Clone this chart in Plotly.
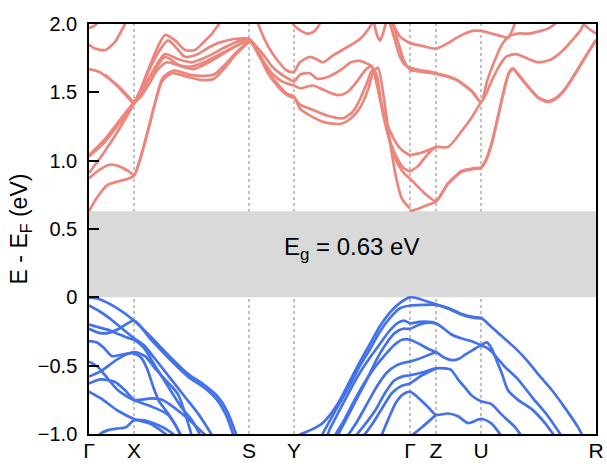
import plotly.graph_objects as go

# High-symmetry points (k-path distance, arbitrary units)
kpt_pos = [0, 45, 160, 205, 321, 347, 392, 507]
kpt_lbl = ["Γ", "X", "S", "Y", "Γ", "Z", "U", "R"]

gap_eV = 0.63

# ---------------- conduction bands (k, E) ----------------
cb_k = [
    [0, 8, 18, 30, 40, 45, 52, 59, 66, 73, 83, 100, 113, 125, 136, 146, 160],
    [0, 10, 20, 30, 40, 45, 53, 60, 67, 74, 85, 100, 113, 125, 137, 147, 160],
    [0, 15, 30, 45, 52, 60, 68, 76, 86, 96, 106, 115, 123, 129, 134],
    [0, 15, 30, 45, 52, 60, 70, 79, 88, 96, 109, 120, 129, 145, 160, 168, 176, 183, 189, 197, 205, 211, 221, 228, 238, 251, 262, 271, 278, 283, 288, 293, 298, 304, 310, 316, 321],
    [0, 15, 30, 45, 53, 62, 69, 76, 90, 103, 118, 136, 148, 160, 168, 176, 184, 193, 200, 205, 211, 224, 234, 248, 258, 268, 276, 282, 286, 291, 296, 302, 308, 314, 321],
    [16, 29, 38, 45, 52, 60, 68, 76, 90, 103, 118, 139, 150, 160, 170, 179, 188, 196, 201, 205, 211, 221, 238, 254, 264, 271, 278, 283, 287, 292, 298, 304, 310, 316, 321],
    [0, 10, 20, 30, 38, 45, 52, 60, 68, 78, 92, 105, 120, 138, 150, 160, 170, 180, 190, 198, 205, 211, 221, 236, 252, 262, 272, 279, 284, 289, 295, 301, 307, 313, 321],
    [0, 6, 16, 26, 31, 36, 40],
    [0, 6, 12],
    [165, 169, 176, 183, 190, 196, 201, 205, 211, 221, 228, 234, 244, 258, 271, 281, 286],
    [200, 205, 212, 218, 224, 229, 234],
    [284, 288, 291, 294, 298],
    [296, 301, 306, 311, 316, 321, 333, 347, 366, 383, 392, 403, 410, 417, 427, 438, 449, 462, 473, 483, 492, 497],
    [299, 304, 309, 314, 318, 321, 333, 347, 366, 383, 392, 398, 405, 413, 420, 429, 440, 452, 460, 466, 472],
    [302, 306, 311, 316, 321, 333, 347, 359, 368, 376, 384, 392, 403, 413, 419, 423, 428],
    [321, 330, 340, 347, 359, 373, 385, 392, 397, 403, 410, 416, 420, 424, 430, 439, 449, 459, 468, 476, 490, 500, 507],
    [321, 333, 347, 359, 373, 385, 392, 397, 403, 410, 416, 420, 424, 430, 439, 449, 459, 468, 476, 490, 500, 507],
    [321, 329, 339, 347, 359, 373, 383, 392],
    [321, 333, 347],
    [488, 496, 501, 507],
]
cb_E = [
    [0.63, 0.73, 0.82, 0.85, 0.87, 0.89, 1.03, 1.22, 1.42, 1.58, 1.64, 1.61, 1.59, 1.60, 1.68, 1.77, 1.87],
    [0.87, 0.93, 0.97, 0.96, 0.92, 0.895, 1.06, 1.25, 1.45, 1.61, 1.66, 1.63, 1.62, 1.63, 1.71, 1.79, 1.88],
    [0.91, 1.06, 1.23, 1.42, 1.53, 1.68, 1.82, 1.92, 1.88, 1.81, 1.81, 1.87, 1.93, 1.99, 2.05],
    [1.03, 1.13, 1.27, 1.42, 1.52, 1.66, 1.80, 1.88, 1.82, 1.76, 1.78, 1.83, 1.86, 1.89, 1.89, 1.83, 1.76, 1.69, 1.65, 1.61, 1.58, 1.63, 1.64, 1.60, 1.61, 1.66, 1.72, 1.73, 1.71, 1.69, 1.55, 1.40, 1.27, 1.17, 1.10, 1.06, 1.04],
    [1.04, 1.15, 1.29, 1.43, 1.52, 1.63, 1.72, 1.78, 1.74, 1.72, 1.76, 1.83, 1.87, 1.89, 1.81, 1.71, 1.63, 1.58, 1.56, 1.55, 1.53, 1.55, 1.52, 1.48, 1.50, 1.58, 1.66, 1.69, 1.65, 1.45, 1.28, 1.12, 1.02, 0.95, 0.92],
    [1.63, 1.54, 1.47, 1.42, 1.49, 1.60, 1.69, 1.76, 1.70, 1.69, 1.73, 1.81, 1.85, 1.88, 1.77, 1.64, 1.55, 1.49, 1.47, 1.46, 1.41, 1.38, 1.33, 1.31, 1.36, 1.45, 1.57, 1.66, 1.64, 1.43, 1.22, 1.06, 0.96, 0.90, 0.87],
    [1.67, 1.65, 1.60, 1.54, 1.48, 1.43, 1.47, 1.56, 1.66, 1.72, 1.69, 1.67, 1.72, 1.80, 1.85, 1.88, 1.77, 1.64, 1.55, 1.49, 1.47, 1.38, 1.33, 1.28, 1.27, 1.31, 1.40, 1.52, 1.64, 1.68, 1.45, 1.14, 0.88, 0.72, 0.65, 0.63],
    [1.85, 1.82, 1.81, 1.87, 1.93, 2.0, 2.05],
    [1.97, 1.99, 2.04],
    [2.05, 2.0, 1.88, 1.79, 1.72, 1.67, 1.65, 1.65, 1.72, 1.76, 1.74, 1.72, 1.77, 1.83, 1.89, 1.98, 2.05],
    [2.05, 1.99, 1.95, 1.93, 1.94, 1.98, 2.05],
    [2.05, 1.92, 1.88, 1.93, 2.04],
    [2.08, 2.0, 1.88, 1.76, 1.70, 1.68, 1.66, 1.64, 1.60, 1.51, 1.43, 1.59, 1.69, 1.76, 1.78, 1.75, 1.72, 1.74, 1.80, 1.88, 1.96, 2.05],
    [2.08, 2.0, 1.87, 1.75, 1.69, 1.665, 1.65, 1.635, 1.595, 1.505, 1.425, 1.58, 1.72, 1.85, 1.91, 1.93, 1.93, 1.95, 1.97, 2.0, 2.05],
    [2.03, 1.97, 1.91, 1.88, 1.86, 1.84, 1.82, 1.86, 1.90, 1.93, 1.95, 1.95, 1.93, 1.91, 1.90, 1.95, 2.05],
    [0.63, 0.65, 0.68, 0.70, 0.83, 0.92, 0.94, 0.945, 1.00, 1.13, 1.35, 1.54, 1.64, 1.67, 1.62, 1.54, 1.46, 1.43, 1.46, 1.52, 1.68, 1.80, 1.88],
    [0.87, 0.78, 0.705, 0.835, 0.925, 0.945, 0.95, 1.01, 1.14, 1.36, 1.55, 1.645, 1.675, 1.625, 1.545, 1.465, 1.435, 1.465, 1.525, 1.685, 1.805, 1.885],
    [0.92, 0.96, 1.05, 1.10, 1.10, 1.22, 1.32, 1.43],
    [1.04, 1.06, 1.10],
    [2.05, 1.99, 1.96, 1.93],
]

# ---------------- valence bands (k, E) ----------------
vb_k = [
    [0, 9, 26, 45, 62, 79, 99, 115, 128, 138, 148],
    [0, 10, 20, 30, 45, 62, 79, 99, 115, 128, 137, 145],
    [0, 10, 20, 30, 40, 45, 55, 65, 80, 95, 110, 124],
    [0, 10, 20, 30, 40, 45, 55, 65, 78, 92, 103, 112],
    [0, 8, 15, 23, 32, 40, 45, 52, 58, 64, 70, 78, 86, 92],
    [0, 9, 16, 29, 45, 63, 73, 96, 118],
    [0, 12, 29, 45, 56, 66, 76, 89, 103],
    [0, 12, 26, 36, 45, 63, 79, 93],
    [0, 12, 29, 45, 63, 80],
    [8, 11, 20, 28, 37, 45, 55, 64, 76, 88],
    # Y - Gamma - Z - U - R
    [205, 212, 222, 232, 241, 251, 261, 271, 281, 291, 301, 311, 321, 330, 340, 347, 360, 372, 385, 392, 400, 412, 426, 439, 450, 463, 477, 489, 494],
    [232, 241, 251, 261, 271, 281, 291, 301, 311, 321, 334, 347, 360, 372, 385, 392],
    [238, 241, 251, 261, 271, 281, 291, 300, 308, 315, 321, 330, 340, 347, 355, 362, 372, 382, 392, 398, 403, 410, 416, 429, 443, 459, 473],
    [248, 258, 268, 278, 288, 298, 306, 314, 321, 330, 340, 347],
    [245, 255, 265, 275, 285, 295, 305, 313, 321, 330, 340, 347, 355, 363, 370, 376, 385, 392, 398, 403, 408, 413, 419, 429, 443, 456, 466],
    [258, 268, 278, 288, 298, 307, 314, 321, 330, 340, 347],
    [266, 276, 286, 296, 305, 313, 321, 333, 347, 355, 362, 369, 376, 383, 392, 402, 413, 426, 433],
    [274, 284, 294, 303, 312, 321, 333, 347],
    [292, 300, 307, 314, 321, 333, 340, 347, 359, 369, 379, 392, 402, 413],
    [321, 333, 347],
]
vb_E = [
    [0.0, -0.01, -0.07, -0.17, -0.29, -0.42, -0.56, -0.64, -0.72, -0.83, -1.02],
    [-0.23, -0.26, -0.26, -0.23, -0.17, -0.31, -0.44, -0.58, -0.66, -0.75, -0.86, -1.02],
    [-0.06, -0.10, -0.15, -0.21, -0.27, -0.30, -0.35, -0.44, -0.58, -0.72, -0.86, -1.02],
    [-0.20, -0.22, -0.24, -0.27, -0.30, -0.31, -0.37, -0.49, -0.64, -0.80, -0.90, -1.02],
    [-0.32, -0.33, -0.37, -0.43, -0.42, -0.41, -0.41, -0.44, -0.52, -0.65, -0.76, -0.84, -0.93, -1.02],
    [-0.47, -0.51, -0.57, -0.68, -0.75, -0.74, -0.75, -0.87, -1.02],
    [-0.58, -0.54, -0.45, -0.40, -0.43, -0.52, -0.60, -0.71, -1.02],
    [-0.63, -0.60, -0.62, -0.68, -0.75, -0.80, -0.86, -1.02],
    [-0.69, -0.74, -0.83, -0.89, -0.93, -1.02],
    [-1.03, -1.0, -0.97, -0.96, -0.95, -0.90, -0.90, -0.92, -0.96, -1.02],
    [-1.03, -1.0, -0.97, -0.93, -0.86, -0.75, -0.61, -0.47, -0.34, -0.21, -0.11, -0.04, 0.0, -0.01, -0.035, -0.05, -0.08, -0.12, -0.145, -0.15, -0.20, -0.28, -0.37, -0.47, -0.57, -0.68, -0.82, -0.95, -1.02],
    [-1.02, -0.90, -0.77, -0.64, -0.50, -0.38, -0.25, -0.15, -0.08, -0.06, -0.055, -0.055, -0.085, -0.125, -0.15, -0.155],
    [-1.02, -0.96, -0.82, -0.68, -0.55, -0.44, -0.34, -0.25, -0.19, -0.17, -0.19, -0.18, -0.18, -0.19, -0.23, -0.27, -0.30, -0.32, -0.35, -0.37, -0.40, -0.46, -0.51, -0.60, -0.73, -0.87, -1.02],
    [-1.02, -0.88, -0.74, -0.60, -0.45, -0.33, -0.26, -0.23, -0.23, -0.20, -0.185, -0.19],
    [-1.02, -0.90, -0.76, -0.63, -0.52, -0.43, -0.35, -0.31, -0.31, -0.34, -0.38, -0.40, -0.44, -0.46, -0.45, -0.42, -0.38, -0.35, -0.33, -0.38, -0.47, -0.56, -0.68, -0.75, -0.82, -0.92, -1.02],
    [-1.02, -0.91, -0.78, -0.65, -0.55, -0.50, -0.48, -0.47, -0.45, -0.42, -0.40],
    [-1.02, -0.93, -0.83, -0.70, -0.61, -0.58, -0.57, -0.55, -0.52, -0.52, -0.53, -0.60, -0.66, -0.72, -0.76, -0.78, -0.86, -0.95, -1.02],
    [-1.02, -0.92, -0.80, -0.70, -0.65, -0.63, -0.57, -0.52],
    [-1.02, -0.88, -0.77, -0.71, -0.69, -0.76, -0.81, -0.86, -0.85, -0.87, -0.92, -0.89, -0.92, -1.02],
    [-1.02, -0.95, -0.86],
]

cb_color = "#EC867C"
vb_color = "#4472EA"
FONT = "Liberation Sans, Arial, Helvetica, sans-serif"

fig = go.Figure()

for ks, es in zip(cb_k, cb_E):
    fig.add_trace(go.Scatter(x=ks, y=es, mode="lines",
                             line=dict(color=cb_color, width=2.7, shape="spline", smoothing=0.7),
                             hoverinfo="skip", showlegend=False))
for ks, es in zip(vb_k, vb_E):
    fig.add_trace(go.Scatter(x=ks, y=es, mode="lines",
                             line=dict(color=vb_color, width=2.7, shape="spline", smoothing=0.7),
                             hoverinfo="skip", showlegend=False))

shapes = []
for kp in kpt_pos[1:-1]:
    shapes.append(dict(type="line", xref="x", yref="y", x0=kp, x1=kp, y0=-1, y1=2,
                       line=dict(color="#999999", width=1.2, dash="dot"), layer="below"))
shapes.append(dict(type="rect", xref="x", yref="y", x0=kpt_pos[0], x1=kpt_pos[-1],
                   y0=0, y1=gap_eV, fillcolor="#d9d9d9", line=dict(width=0), layer="below"))
fig.update_layout(shapes=shapes)

fig.add_annotation(x=262, y=0.36, xref="x", yref="y",
                   text="E<sub>g</sub> = %.2f eV" % gap_eV, showarrow=False,
                   font=dict(family=FONT, size=24, color="black"))

y_ticks = [-1.0, -0.5, 0, 0.5, 1.0, 1.5, 2.0]
y_ticktext = ["\u22121.0", "\u22120.5", "0", "0.5", "1.0", "1.5", "2.0"]

fig.update_layout(
    width=607, height=466,
    margin=dict(l=89, r=11, t=24, b=32),
    paper_bgcolor="white", plot_bgcolor="white",
    font=dict(family=FONT, color="black"),
    xaxis=dict(range=[kpt_pos[0], kpt_pos[-1]], tickvals=kpt_pos, ticktext=kpt_lbl,
               tickfont=dict(size=21), showgrid=False, zeroline=False,
               showline=True, mirror=True, linecolor="black", linewidth=1.5,
               ticks="", ticklabelstandoff=-3, automargin=False),
    yaxis=dict(range=[-1, 2], tickvals=y_ticks, ticktext=y_ticktext,
               tickfont=dict(size=20), showgrid=False, zeroline=False,
               showline=True, mirror=True, linecolor="black", linewidth=1.5,
               ticks="inside", ticklen=10, tickwidth=1.5, tickcolor="black",
               ticklabelstandoff=6, automargin=False,
               title=dict(text="E - E<sub>F</sub> (eV)", font=dict(size=23), standoff=4)),
)

fig.write_html("out.html")
